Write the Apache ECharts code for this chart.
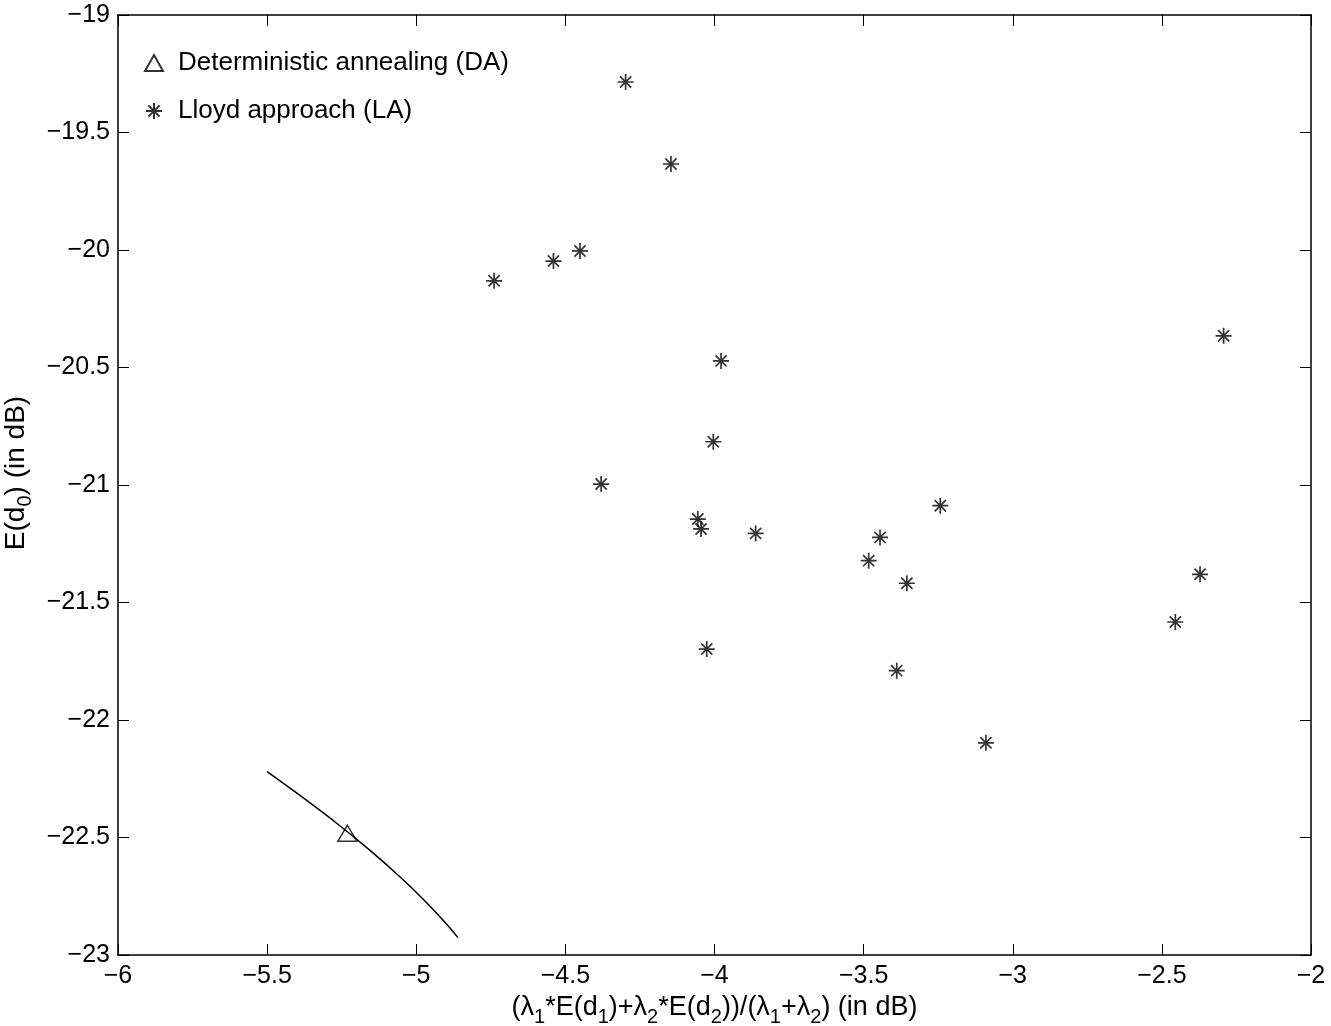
<!DOCTYPE html>
<html>
<head>
<meta charset="utf-8">
<script src="https://cdn.jsdelivr.net/npm/echarts@6/dist/echarts.min.js"></script>
<style>
  html, body { margin: 0; padding: 0; background: #ffffff; }
  #main { width: 1331px; height: 1026px; }
</style>
</head>
<body>
<div id="main"></div>
<script>
// Lloyd approach (LA) points
var laX = [-4.298, -4.146, -4.540, -4.451, -4.739, -2.293, -3.978, -4.004, -4.380, -4.056, -4.045,
           -3.862, -3.243, -3.445, -3.483, -3.355, -2.372, -2.455, -4.026, -3.389, -3.090];
var laY = [-19.285, -19.634, -20.047, -20.004, -20.131, -20.365, -20.472, -20.816, -20.996, -21.145, -21.187,
           -21.206, -21.088, -21.223, -21.322, -21.418, -21.380, -21.583, -21.698, -21.790, -22.097];

// Deterministic annealing (DA) curve + marked point
var daCurveX = [-5.500, -5.390, -5.272, -5.155, -5.054, -4.970, -4.903, -4.860];
var daCurveY = [-22.220, -22.321, -22.434, -22.555, -22.668, -22.771, -22.862, -22.926];
var daPointX = [-5.231];
var daPointY = [-22.482];

var xMin = -6, xMax = -2, yMin = -23, yMax = -19, step = 0.5;

function zip(xs, ys) {
    var out = [];
    for (var i = 0; i < xs.length; i++) {
        out.push([xs[i], ys[i]]);
    }
    return out;
}

function fmt(v) {
    return String(v).replace('-', '\u2212');
}

var FONT = 'Liberation Sans';
var STAR = 'path://M0,-10 L0,10 M-10,0 L10,0 M-7,-7 L7,7 M-7,7 L7,-7';

var axisLine = { show: true, onZero: false, lineStyle: { color: '#000', width: 1.5 } };
var tick = { show: true, inside: true, length: 11, lineStyle: { color: '#000', width: 1 } };

// main text + subscript styles for the axis names
var xRich = {
    m: { fontFamily: FONT, fontSize: 27, color: '#000', lineHeight: 40, verticalAlign: 'middle' },
    s: { fontFamily: FONT, fontSize: 20, color: '#000', lineHeight: 40, verticalAlign: 'bottom' }
};
var yRich = {
    m: { fontFamily: FONT, fontSize: 28, color: '#000', lineHeight: 40, verticalAlign: 'middle' },
    s: { fontFamily: FONT, fontSize: 20, color: '#000', lineHeight: 40, verticalAlign: 'bottom' }
};

var myChart = echarts.init(document.getElementById('main'));

var option = {
    backgroundColor: '#ffffff',
    animation: false,
    grid: { left: 118, right: 20, top: 15, bottom: 71, containLabel: false, outerBoundsMode: 'none' },
    legend: {
        orient: 'vertical',
        left: 139,
        top: 45,
        itemGap: 22,
        itemWidth: 18,
        itemHeight: 16,
        data: ['Deterministic annealing (DA)', 'Lloyd approach (LA)'],
        textStyle: { fontFamily: FONT, fontSize: 26, color: '#000', padding: [0, 0, 0, 10] }
    },
    xAxis: [
        {
            type: 'value', min: xMin, max: xMax, interval: step, position: 'bottom',
            axisLine: axisLine, axisTick: tick, splitLine: { show: false },
            axisLabel: { fontFamily: FONT, fontSize: 25, color: '#000', margin: 9, formatter: fmt },
            name: '{m|(λ}{s|1}{m|*E(d}{s|1}{m|)+λ}{s|2}{m|*E(d}{s|2}{m|))/(λ}{s|1}{m|+λ}{s|2}{m|) (in dB)}',
            nameLocation: 'middle', nameGap: 23,
            nameTextStyle: { rich: xRich }
        },
        {
            type: 'value', min: xMin, max: xMax, interval: step, position: 'top',
            axisLine: axisLine, axisTick: tick, splitLine: { show: false },
            axisLabel: { show: false }
        }
    ],
    yAxis: [
        {
            type: 'value', min: yMin, max: yMax, interval: step, position: 'left',
            axisLine: axisLine, axisTick: tick, splitLine: { show: false },
            axisLabel: { fontFamily: FONT, fontSize: 25, color: '#000', margin: 8, formatter: fmt },
            name: '{m|E(d}{s|0}{m|) (in dB)}',
            nameLocation: 'middle', nameGap: 71, nameRotate: 90,
            nameTextStyle: { rich: yRich, padding: [0, 0, 0, 24] }
        },
        {
            type: 'value', min: yMin, max: yMax, interval: step, position: 'right',
            axisLine: axisLine, axisTick: tick, splitLine: { show: false },
            axisLabel: { show: false }
        }
    ],
    series: [
        {
            name: 'DA curve',
            type: 'line',
            data: zip(daCurveX, daCurveY),
            smooth: 0.3,
            showSymbol: false,
            symbol: 'none',
            lineStyle: { color: '#000', width: 1.5 },
            silent: true
        },
        {
            name: 'Deterministic annealing (DA)',
            type: 'scatter',
            data: zip(daPointX, daPointY),
            symbol: 'triangle',
            symbolSize: [19, 16],
            itemStyle: { color: 'rgba(255,255,255,0)', borderColor: '#000', borderWidth: 1.5 }
        },
        {
            name: 'Lloyd approach (LA)',
            type: 'scatter',
            data: zip(laX, laY),
            symbol: STAR,
            symbolSize: 16,
            itemStyle: { color: 'rgba(0,0,0,0)', borderColor: '#000', borderWidth: 1.7 }
        }
    ]
};

myChart.setOption(option);
</script>
</body>
</html>
